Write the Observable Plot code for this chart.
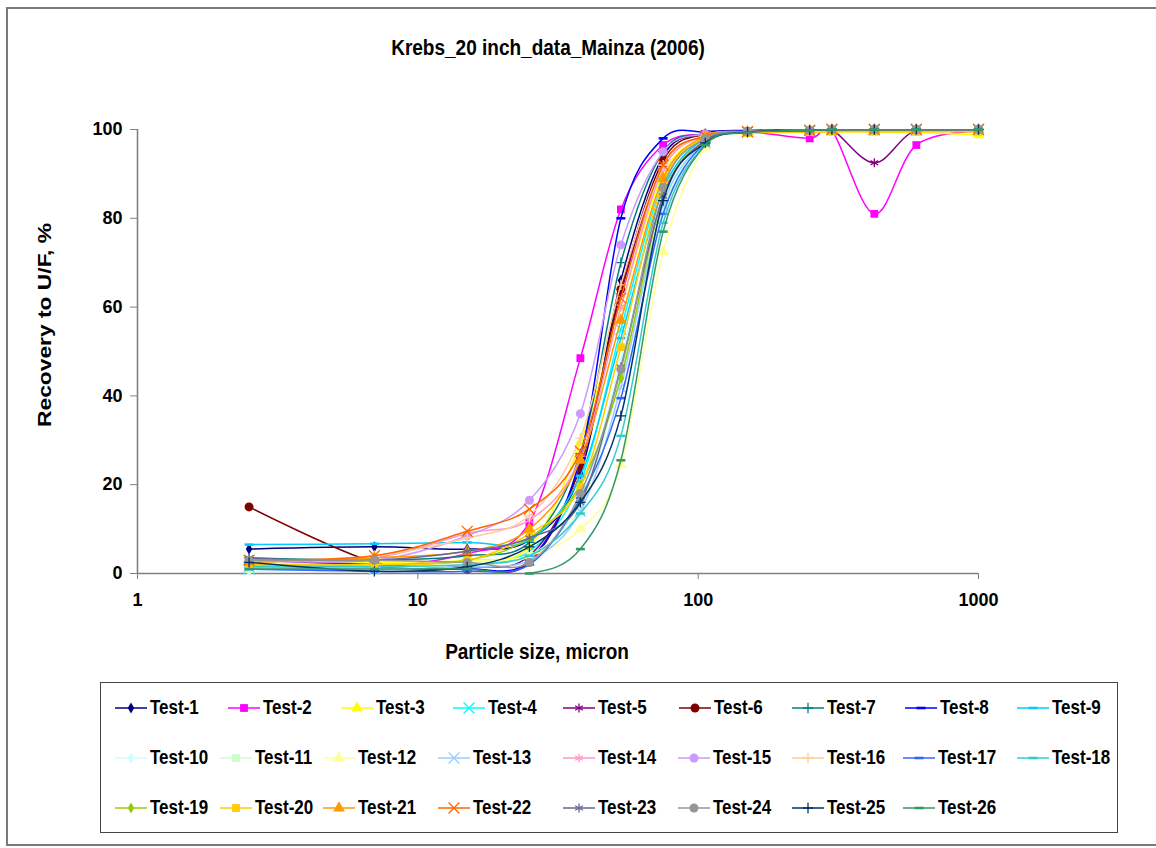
<!DOCTYPE html>
<html><head><meta charset="utf-8">
<script src="https://cdn.jsdelivr.net/npm/d3@7"></script>
<script src="https://cdn.jsdelivr.net/npm/@observablehq/plot@0.6"></script>
<style>
body{margin:0;background:#fff;font-family:"Liberation Sans",Arial,sans-serif;}
#page{position:relative;width:1156px;height:848px;overflow:hidden;background:#fff;}
#border{position:absolute;left:6px;top:7px;width:1160px;height:839px;border:2px solid #7a7a7a;box-sizing:border-box;}
.t{position:absolute;font-weight:bold;color:#000;white-space:nowrap;line-height:1;}
#legend{position:absolute;left:100px;top:682px;width:1018px;height:151px;border:1.5px solid #444;box-sizing:border-box;}
.li{position:absolute;font-weight:bold;font-size:17px;line-height:1;white-space:nowrap;transform:translateY(-50%) scaleY(1.15);}
.ls{position:absolute;overflow:visible;}
</style></head><body>
<div id="page">
  <div id="border"></div>
  <div id="chart" style="position:absolute;left:0;top:0"></div>
  <div class="t" style="left:548px;top:47px;font-size:19px;transform:translate(-50%,-50%) scaleY(1.2)">Krebs_20 inch_data_Mainza (2006)</div>
  <div class="t" style="left:537px;top:651px;font-size:19px;transform:translate(-50%,-50%) scaleY(1.2)">Particle size, micron</div>
  <div class="t" style="left:44px;top:325px;font-size:19px;transform:translate(-50%,-50%) rotate(-90deg) scale(1.2,1)">Recovery to U/F, %</div>
  <div id="legend"></div>
</div>
<script>
// ---- data ----
const sizes = [2.5, 7, 15, 25, 38, 53, 75, 106, 150, 250, 300, 425, 600, 1000];
const xTicks = [1, 10, 100, 1000];
const yTicks = [0, 20, 40, 60, 80, 100];
const names = Array.from({length: 26}, (_, i) => "Test-" + (i + 1));

const test1  = [5.5, 6.0, 5.5, 7.5, 22.5, 66.0, 94.0, 99.0, 99.6, 99.8, 100, 100, 100, 100];
const test2  = [1.5, 1.5, 4.5, 11.5, 48.5, 82.0, 96.5, 99.0, 99.5, 98.0, 99.8, 81.0, 96.5, 99.6];
const test3  = [2.0, 2.5, 3.0, 6.0, 29.5, 60.0, 90.0, 98.0, 99.3, 99.4, 99.5, 99.5, 99.3, 98.8];
const test4  = [1.0, 1.0, 2.0, 5.0, 20.5, 55.0, 88.0, 98.0, 99.5, 99.8, 100, 100, 100, 100];
const test5  = [3.0, 2.0, 1.5, 4.0, 24.0, 63.0, 92.0, 98.5, 99.5, 99.8, 100, 92.5, 99.8, 100];
const test6  = [15.0, 2.5, 1.0, 2.5, 24.5, 64.0, 93.0, 99.0, 99.6, 99.8, 100, 100, 100, 100];
const test7  = [3.5, 3.0, 4.0, 7.0, 27.0, 70.0, 95.0, 99.0, 99.6, 99.8, 100, 100, 100, 100];
const test8  = [2.0, 1.5, 1.0, 3.0, 26.0, 80.0, 98.0, 99.5, 99.8, 100, 100, 100, 100, 100];
const test9  = [6.5, 6.7, 7.0, 7.5, 22.0, 53.0, 86.5, 98.0, 99.5, 99.8, 100, 100, 100, 100];
const test10 = [0.5, 1.0, 2.0, 4.0, 16.5, 48.0, 84.0, 97.0, 99.4, 99.8, 100, 100, 100, 100];
const test11 = [1.0, 1.5, 2.0, 4.0, 15.0, 45.0, 82.0, 97.0, 99.4, 99.8, 100, 100, 100, 100];
const test12 = [2.0, 2.0, 2.5, 4.0, 10.0, 24.5, 72.5, 96.0, 99.2, 99.6, 99.8, 99.8, 99.8, 99.8];
const test13 = [1.5, 1.0, 1.5, 3.0, 14.0, 42.0, 83.0, 97.0, 99.4, 99.8, 100, 100, 100, 100];
const test14 = [3.0, 3.5, 9.0, 12.0, 26.0, 60.0, 91.0, 98.5, 99.5, 99.8, 100, 100, 100, 100];
const test15 = [3.0, 3.0, 8.5, 16.5, 36.0, 74.0, 95.0, 99.0, 99.6, 99.8, 100, 100, 100, 100];
const test16 = [2.5, 4.0, 8.0, 13.0, 30.5, 65.0, 92.0, 98.5, 99.5, 99.8, 100, 100, 100, 100];
const test17 = [1.0, 0.5, 0.5, 2.0, 17.0, 39.5, 81.0, 97.0, 99.4, 99.8, 100, 100, 100, 100];
const test18 = [1.5, 1.5, 2.0, 4.0, 13.5, 31.0, 79.0, 96.5, 99.3, 99.8, 100, 100, 100, 100];
const test19 = [2.0, 2.0, 3.0, 8.0, 20.0, 44.0, 85.0, 97.5, 99.4, 99.8, 100, 100, 100, 100];
const test20 = [2.0, 2.0, 3.0, 9.0, 19.5, 51.0, 88.0, 98.0, 99.2, 99.4, 99.5, 99.5, 99.5, 99.5];
const test21 = [2.5, 3.5, 5.0, 10.0, 25.5, 57.0, 89.0, 98.5, 99.5, 99.8, 100, 100, 100, 100];
const test22 = [3.0, 4.0, 9.5, 14.5, 27.5, 62.0, 92.0, 98.5, 99.5, 99.8, 100, 100, 100, 100];
const test23 = [3.5, 3.0, 5.0, 8.0, 16.0, 46.5, 85.0, 97.5, 99.4, 99.8, 100, 100, 100, 100];
const test24 = [3.0, 3.0, 2.5, 2.5, 18.0, 46.0, 87.0, 98.0, 99.5, 99.8, 100, 100, 100, 100];
const test25 = [2.5, 0.5, 1.5, 6.0, 16.0, 35.5, 84.0, 97.0, 99.4, 99.8, 100, 100, 100, 100];
const test26 = [1.0, 1.0, 1.0, 0.0, 5.5, 25.5, 77.0, 96.5, 99.3, 99.8, 100, 100, 100, 100];

const series = [test1, test2, test3, test4, test5, test6, test7, test8, test9, test10, test11, test12, test13,
  test14, test15, test16, test17, test18, test19, test20, test21, test22, test23, test24, test25, test26];

const colors = ["#000080", "#FF00FF", "#FFFF00", "#00FFFF", "#800080", "#800000", "#008080", "#0000FF", "#00CCFF",
  "#CCFFFF", "#CCFFCC", "#FFFF99", "#99CCFF", "#FF99CC", "#CC99FF", "#FFCC99", "#3366FF", "#33CCCC",
  "#99CC00", "#FFCC00", "#FF9900", "#FF6600", "#666699", "#969696", "#003366", "#339966"];
const markerCycle = ["diamond", "square", "triangle", "times", "asterisk", "circle", "plus", "dash", "dash"];

// ---- marker styles ----
const dashSymbol = {draw(ctx) { ctx.rect(-4.5, -1.3, 9, 2.6); }};
function markerStyle(kind, color) {
  switch (kind) {
    case "diamond": return {symbol: "diamond", r: 3.4, fill: color, stroke: "none"};
    case "square": return {symbol: "square", r: 4.4, fill: color, stroke: "none"};
    case "triangle": return {symbol: "triangle", r: 4.4, fill: color, stroke: "none"};
    case "times": return {symbol: "times", r: 5, fill: "none", stroke: color, strokeWidth: 1.3};
    case "asterisk": return {symbol: "asterisk", r: 4.2, fill: "none", stroke: color, strokeWidth: 1.3};
    case "circle": return {symbol: "circle", r: 4.5, fill: color, stroke: "none"};
    case "plus": return {symbol: "plus", r: 3.4, fill: "none", stroke: color, strokeWidth: 1.3};
    default: return {symbol: dashSymbol, r: 4, fill: color, stroke: "none"};
  }
}

// ---- chart ----
const marks = [
  Plot.ruleY([0], {stroke: "#808080", strokeWidth: 1.6}),
  Plot.ruleX([1], {stroke: "#808080", strokeWidth: 1.6}),
  Plot.axisX({ticks: xTicks, tickFormat: d => String(d), tickSize: 6, tickPadding: 14, label: null, stroke: "#808080"}),
  Plot.axisY({ticks: yTicks, tickSize: 7, tickPadding: 8, label: null, stroke: "#808080"})
];
series.forEach((vals, i) => {
  const data = sizes.map((s, j) => ({size: s, rec: vals[j]}));
  marks.push(Plot.line(data, {x: "size", y: "rec", stroke: colors[i], strokeWidth: 1.5, curve: "cardinal", clip: true}));
  marks.push(Plot.dot(data, {x: "size", y: "rec", ...markerStyle(markerCycle[i % 9], colors[i])}));
});

const chart = Plot.plot({
  width: 1156,
  height: 680,
  marginLeft: 137,
  marginRight: 178,
  marginTop: 129,
  marginBottom: 107,
  style: {fontFamily: "'Liberation Sans', Arial, sans-serif", fontSize: "18px", fontWeight: "bold", background: "transparent", color: "#000"},
  x: {type: "log", domain: [1, 1000]},
  y: {domain: [0, 100]},
  marks
});
document.getElementById("chart").appendChild(chart);

// ---- legend ----
const rowY = [708, 758, 808];
const colX = [
  [150, 263, 376, 488, 598, 714, 827, 940, 1052],
  [150, 255, 358, 473, 598, 713, 827, 938, 1052],
  [150, 255, 358, 473, 598, 713, 827, 938]
];
const page = document.getElementById("page");
names.forEach((name, i) => {
  const row = Math.floor(i / 9), col = i % 9;
  const tx = colX[row][col], ty = rowY[row];
  const svg = d3.create("svg").attr("class", "ls").attr("width", 34).attr("height", 16)
    .style("left", (tx - 36) + "px").style("top", (ty - 8) + "px");
  svg.append("line").attr("x1", 1).attr("x2", 33).attr("y1", 8).attr("y2", 8)
    .attr("stroke", colors[i]).attr("stroke-width", 1.5);
  const st = markerStyle(markerCycle[i % 9], colors[i]);
  const size = st.r * st.r * Math.PI;
  const symType = st.symbol === dashSymbol ? dashSymbol : {
    diamond: d3.symbolDiamond, square: d3.symbolSquare, triangle: d3.symbolTriangle, times: d3.symbolTimes,
    asterisk: d3.symbolAsterisk, circle: d3.symbolCircle, plus: d3.symbolPlus
  }[st.symbol];
  svg.append("path").attr("transform", "translate(17,8)")
    .attr("d", d3.symbol(symType, size)())
    .attr("fill", st.fill).attr("stroke", st.stroke).attr("stroke-width", st.strokeWidth || 0);
  page.appendChild(svg.node());
  const t = document.createElement("div");
  t.className = "li";
  t.style.left = tx + "px";
  t.style.top = ty + "px";
  t.textContent = name;
  page.appendChild(t);
});
</script>
</body></html>
